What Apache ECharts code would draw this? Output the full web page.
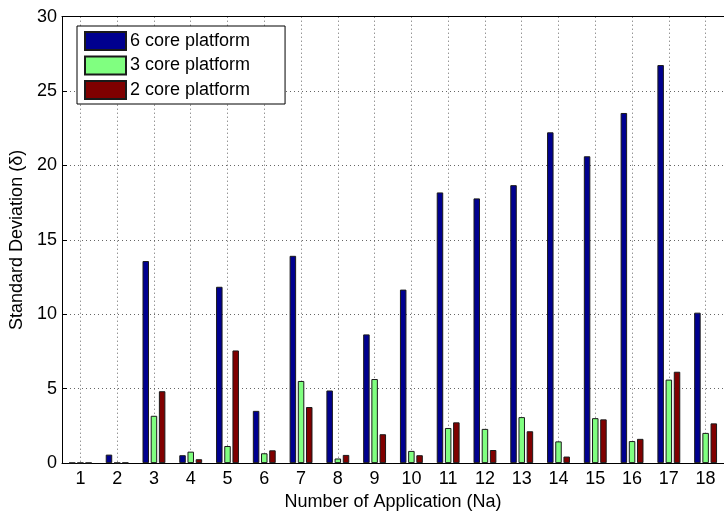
<!DOCTYPE html>
<html>
<head>
<meta charset="utf-8">
<script src="https://cdn.jsdelivr.net/npm/echarts@6/dist/echarts.min.js"></script>
<style>
  html, body { margin: 0; padding: 0; background: #fff; }
  #chart { width: 724px; height: 516px; }
</style>
</head>
<body>
<div id="chart"></div>
<script>
// Number of applications (Na)
const categories = ['1','2','3','4','5','6','7','8','9','10','11','12','13','14','15','16','17','18'];

// Standard deviation per platform
const core6 = [0.02, 0.57, 13.58, 0.53, 11.85, 3.51, 13.93, 4.88, 8.65, 11.66, 18.19, 17.79, 18.68, 22.23, 20.62, 23.53, 26.75, 10.11];
const core3 = [0.02, 0.02, 3.18, 0.77, 1.15, 0.66, 5.52, 0.31, 5.65, 0.82, 2.36, 2.30, 3.09, 1.46, 3.02, 1.48, 5.61, 2.03];
const core2 = [0.02, 0.03, 4.83, 0.26, 7.57, 0.86, 3.77, 0.55, 1.94, 0.53, 2.74, 0.88, 2.14, 0.44, 2.94, 1.63, 6.14, 2.67];

const seriesNames = ['6 core platform', '3 core platform', '2 core platform'];
const seriesColors = ['#00008f', '#80ff80', '#800000'];

const FONT = 'Liberation Sans, Arial, Helvetica, sans-serif';
const dotted = { color: '#666', width: 1, type: [1, 3] };

const chart = echarts.init(document.getElementById('chart'), null, { renderer: 'canvas' });

function barSeries(name, data, color) {
  return {
    name: name,
    type: 'bar',
    data: data,
    xAxisIndex: 0,
    yAxisIndex: 0,
    barWidth: 6.5,
    barGap: '26%',
    itemStyle: { color: color, borderColor: '#1a1a1a', borderWidth: 1 },
    emphasis: { disabled: true },
    animation: false
  };
}

chart.setOption({
  animation: false,
  textStyle: { fontFamily: FONT },
  grid: { left: 62, top: 16.7, bottom: 46, right: -7.6, containLabel: false },
  legend: {
    orient: 'vertical',
    left: 77,
    top: 26,
    padding: [5, 35, 4, 7],
    itemGap: 4.5,
    itemWidth: 41,
    itemHeight: 18,
    icon: 'rect',
    backgroundColor: '#fff',
    borderColor: '#000',
    borderWidth: 1,
    textStyle: { fontSize: 18, color: '#000', fontFamily: FONT, padding: [0, 0, 0, -1] },
    data: seriesNames
  },
  xAxis: [
    {
      type: 'category',
      data: categories,
      position: 'bottom',
      axisLine: { lineStyle: { color: '#000', width: 1 } },
      axisTick: { inside: true, alignWithLabel: true, length: 5, lineStyle: { color: '#000' } },
      axisLabel: { fontSize: 18, color: '#000', margin: 7, fontFamily: FONT },
      splitLine: { show: true, alignWithLabel: true, lineStyle: dotted },
      name: 'Number of Application (Na)',
      nameLocation: 'middle',
      nameGap: 26,
      nameTextStyle: { fontSize: 18, color: '#000', fontFamily: FONT }
    },
    {
      type: 'category',
      data: categories,
      position: 'top',
      axisLine: { lineStyle: { color: '#000', width: 1 } },
      axisTick: { inside: true, alignWithLabel: true, length: 5, lineStyle: { color: '#000' } },
      axisLabel: { show: false },
      splitLine: { show: false }
    }
  ],
  yAxis: {
    type: 'value',
    min: 0,
    max: 30,
    interval: 5,
    axisLine: { show: true, lineStyle: { color: '#000', width: 1 } },
    axisTick: { show: true, inside: true, length: 5, lineStyle: { color: '#000' } },
    axisLabel: { fontSize: 18, color: '#000', margin: 5, fontFamily: FONT },
    splitLine: { show: true, lineStyle: dotted },
    name: 'Standard Deviation (δ)',
    nameLocation: 'middle',
    nameGap: 30,
    nameTextStyle: { fontSize: 18, color: '#000', fontFamily: FONT }
  },
  series: [
    barSeries(seriesNames[0], core6, seriesColors[0]),
    barSeries(seriesNames[1], core3, seriesColors[1]),
    barSeries(seriesNames[2], core2, seriesColors[2])
  ]
});
</script>
</body>
</html>
